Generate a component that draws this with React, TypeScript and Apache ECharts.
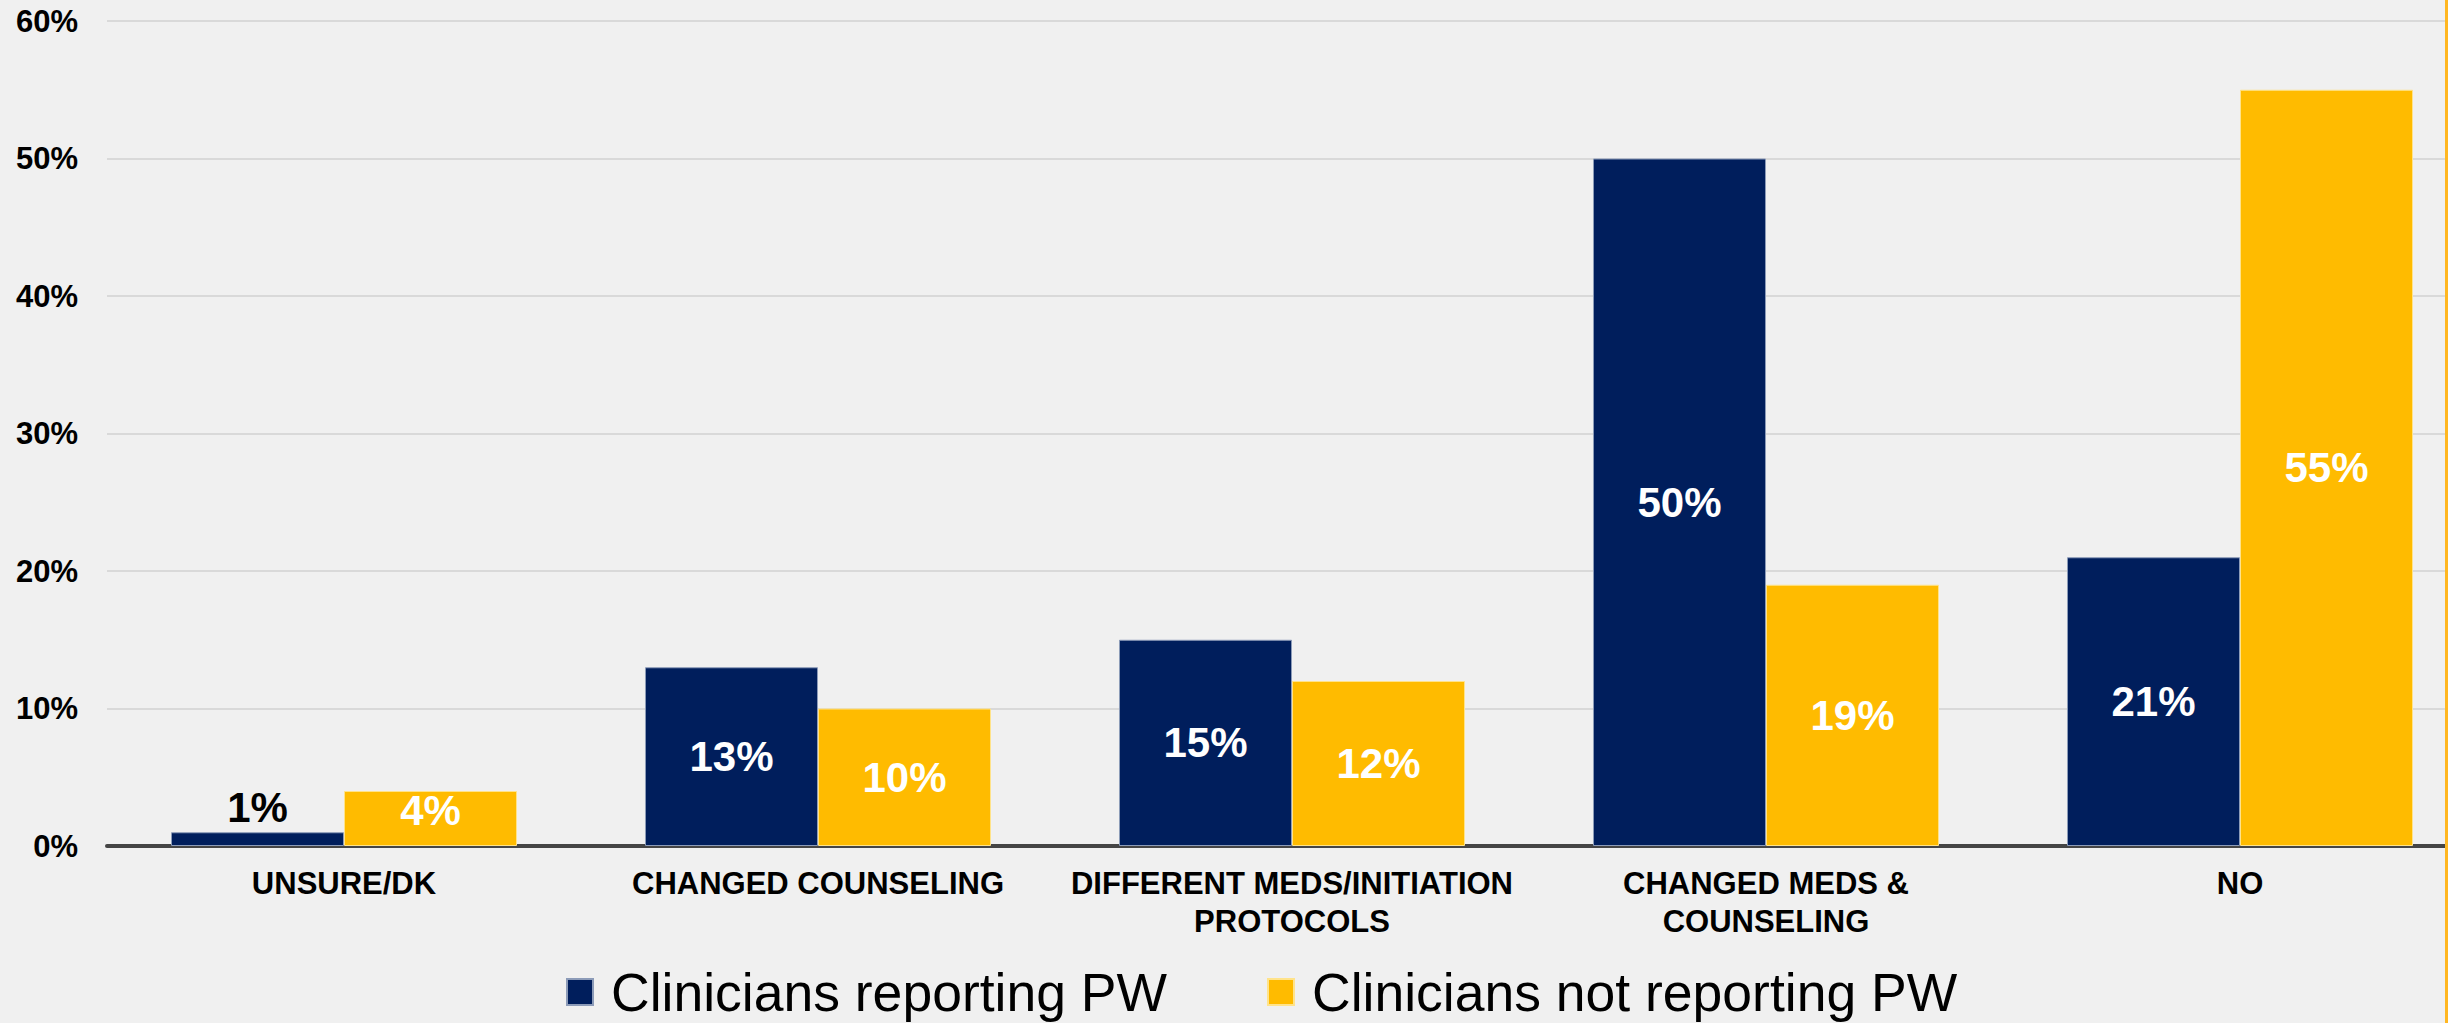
import React, { useEffect, useRef } from "react";
import * as echarts from "echarts";

const categories = [
  "UNSURE/DK",
  "CHANGED COUNSELING",
  "DIFFERENT MEDS/INITIATION\nPROTOCOLS",
  "CHANGED MEDS &\nCOUNSELING",
  "NO",
];
const reportingPW = [1, 13, 15, 50, 21];
const notReportingPW = [4, 10, 12, 19, 55];
const seriesNames = ["Clinicians reporting PW", "Clinicians not reporting PW"];

const FONT = '"Liberation Sans", Arial, Helvetica, sans-serif';
const BLUE = "#001E5C";
const GOLD = "#FFBB00";

export default function App() {
  const ref = useRef<HTMLDivElement>(null);

  useEffect(() => {
    document.body.style.margin = "0";
    if (!ref.current) return;
    const chart = echarts.init(ref.current, null, { renderer: "svg" });

    const labelBase = {
      show: true,
      position: "inside",
      color: "#ffffff",
      fontFamily: FONT,
      fontWeight: "bold",
      fontSize: 42,
      formatter: "{c}%",
    };

    const blueData = reportingPW.map((v) =>
      v < 3
        ? { value: v, label: { position: "top", color: "#000000", distance: 4 } }
        : { value: v }
    );
    const goldData = notReportingPW.map((v) =>
      v < 6 ? { value: v, label: { offset: [0, -8] } } : { value: v }
    );

    chart.setOption({
      animation: false,
      backgroundColor: "#F0F0F0",
      textStyle: { fontFamily: FONT },
      grid: { left: 107, top: 21, width: 2370, height: 825, containLabel: false },
      xAxis: {
        type: "category",
        data: categories,
        axisTick: { show: false },
        axisLine: { show: true, lineStyle: { color: "#454545", width: 4 } },
        axisLabel: {
          interval: 0,
          color: "#000000",
          fontFamily: FONT,
          fontWeight: "bold",
          fontSize: 31,
          lineHeight: 38,
          margin: 18,
          align: "center",
        },
        splitLine: { show: false },
      },
      yAxis: {
        type: "value",
        min: 0,
        max: 60,
        interval: 10,
        axisLine: { show: false },
        axisTick: { show: false },
        axisLabel: {
          formatter: "{value}%",
          color: "#000000",
          fontFamily: FONT,
          fontWeight: "bold",
          fontSize: 31,
          margin: 29,
        },
        splitLine: { show: true, lineStyle: { color: "#D9D9D9", width: 2 } },
      },
      legend: {
        left: 561,
        top: 960,
        icon: "rect",
        itemWidth: 26,
        itemHeight: 26,
        itemGap: 100,
        textStyle: {
          fontFamily: FONT,
          fontSize: 53.5,
          lineHeight: 54,
          color: "#000000",
          padding: [0, 0, 0, 13],
        },
        data: seriesNames,
      },
      series: [
        {
          name: seriesNames[0],
          type: "bar",
          data: blueData,
          barWidth: "36.5%",
          barGap: "0%",
          itemStyle: { color: BLUE, borderColor: "#8C9BB8", borderWidth: 1 },
          label: labelBase,
        },
        {
          name: seriesNames[1],
          type: "bar",
          data: goldData,
          barWidth: "36.5%",
          barGap: "0%",
          itemStyle: { color: GOLD, borderColor: "#FFE38A", borderWidth: 1 },
          label: labelBase,
        },
      ],
      graphic: [
        {
          type: "rect",
          left: 2445,
          top: 0,
          shape: { width: 3, height: 1023 },
          style: { fill: "#FFB722" },
          z: 100,
        },
      ],
    });

    return () => chart.dispose();
  }, []);

  return (
    <div
      style={{
        position: "absolute",
        left: 0,
        top: 0,
        width: 2448,
        height: 1023,
        overflow: "hidden",
        background: "#F0F0F0",
      }}
    >
      <div ref={ref} style={{ width: 2490, height: 1023 }} />
    </div>
  );
}
